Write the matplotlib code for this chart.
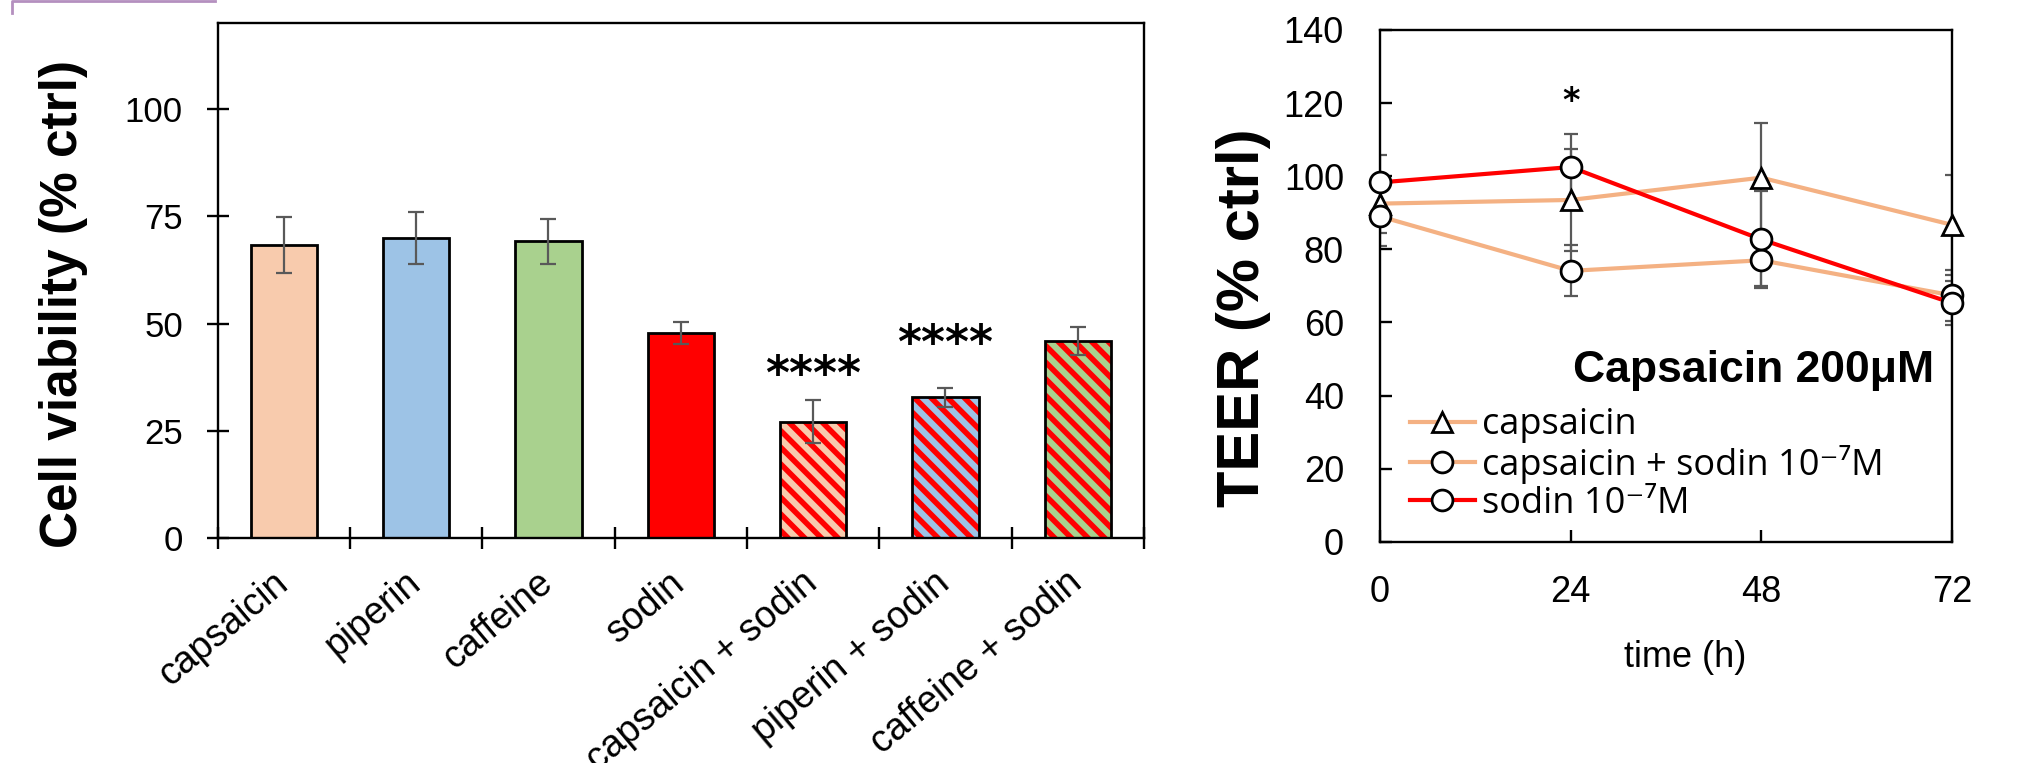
import numpy as np
import matplotlib
matplotlib.use("Agg")
from matplotlib import pyplot as plt
from matplotlib.lines import Line2D
from matplotlib.font_manager import FontProperties
from matplotlib.transforms import ScaledTranslation

plt.rcParams['font.family'] = ['Liberation Sans', 'DejaVu Sans']
plt.rcParams['hatch.linewidth'] = 4.0

# ---- left panel: cell viability ----
categories = ['capsaicin', 'piperin', 'caffeine', 'sodin',
              'capsaicin + sodin', 'piperin + sodin', 'caffeine + sodin']
viability = [68.3, 70.0, 69.2, 47.8, 27.2, 32.9, 46.0]
viability_err = [6.5, 6.0, 5.2, 2.6, 5.0, 2.2, 3.2]
bar_colors = ['#F8CBAD', '#9DC3E6', '#A9D18E', '#FF0000',
              '#F8CBAD', '#9DC3E6', '#A9D18E']
striped = [False, False, False, False, True, True, True]
stars = ['', '', '', '', '****', '****', '']
star_height = [0, 0, 0, 0, 37.6, 45.0, 0]

# ---- right panel: TEER ----
time_h = [0, 24, 48, 72]
teer_capsaicin = [92.5, 93.5, 99.6, 86.7]
teer_capsaicin_err = [8.0, 13.9, 15.0, 13.6]
teer_caps_sodin = [89.0, 74.1, 77.0, 67.4]
teer_caps_sodin_err = [8.0, 7.0, 7.0, 7.0]
teer_sodin = [98.3, 102.5, 82.7, 65.3]
teer_sodin_err = [7.4, 9.1, 13.2, 6.0]
signif_time = 24
signif_y = 120.4

peach_line = '#F4B183'
grey = '#595959'

fig = plt.figure(figsize=(20.19, 7.63), dpi=100)

ax1 = fig.add_axes([0.1078, 0.2945, 0.4588, 0.675])
x = np.arange(len(categories))
for i in range(len(categories)):
    if striped[i]:
        # red stripes over the base colour, black outline on top
        ax1.bar(x[i], viability[i], width=0.5, color=bar_colors[i],
                edgecolor='#FF0000', hatch='\\\\', linewidth=0, zorder=2)
        ax1.bar(x[i], viability[i], width=0.5, fill=False,
                edgecolor='black', linewidth=2.0, zorder=3)
    else:
        ax1.bar(x[i], viability[i], width=0.5, color=bar_colors[i],
                edgecolor='black', linewidth=2.0, zorder=2)
ax1.errorbar(x, viability, yerr=viability_err, fmt='none', ecolor=grey,
             elinewidth=1.6, capsize=6, capthick=1.6, zorder=4)
for i, s in enumerate(stars):
    if s:
        ax1.text(x[i], star_height[i], s, ha='center', va='center',
                 fontsize=33, fontweight='bold', family='DejaVu Sans')

ax1.set_xlim(-0.5, len(categories) - 0.5)
ax1.set_ylim(0, 120)
ax1.set_yticks([0, 25, 50, 75, 100])
ax1.set_xticks(x)
ax1.set_xticklabels(categories, rotation=40, ha='right', rotation_mode='anchor')
ax1.set_xticks(np.arange(len(categories) + 1) - 0.5, minor=True)
ax1.tick_params(axis='x', which='major', length=0, pad=19, labelsize=27)
ax1.tick_params(axis='x', which='minor', direction='inout', length=16, width=1.7)
ax1.tick_params(axis='y', direction='inout', length=16, width=1.7,
                labelsize=25, pad=17)
shift = ScaledTranslation(-12 / 100, 0, fig.dpi_scale_trans)
for lab in ax1.get_xticklabels():
    lab.set_transform(lab.get_transform() + shift)
for sp in ax1.spines.values():
    sp.set_linewidth(1.7)
fig.text(64 / 2019, 1 - 304 / 763, 'Cell viability (% ctrl)', rotation=90,
         ha='center', va='center', fontsize=37, fontweight='bold')

# right panel
ax2 = fig.add_axes([0.6835, 0.29, 0.2833, 0.6707])
ax2.errorbar(time_h, teer_capsaicin, yerr=teer_capsaicin_err, fmt='none',
             ecolor=grey, elinewidth=1.6, capsize=5, capthick=1.6, zorder=2)
ax2.errorbar(time_h, teer_caps_sodin, yerr=teer_caps_sodin_err, fmt='none',
             ecolor=grey, elinewidth=1.6, capsize=5, capthick=1.6, zorder=2)
ax2.errorbar(time_h, teer_sodin, yerr=teer_sodin_err, fmt='none',
             ecolor=grey, elinewidth=1.6, capsize=5, capthick=1.6, zorder=2)
ax2.plot(time_h, teer_capsaicin, color=peach_line, lw=3, marker='^', ms=15,
         mfc='white', mec='black', mew=2, label='capsaicin', zorder=3, clip_on=False)
ax2.plot(time_h, teer_caps_sodin, color=peach_line, lw=3, marker='o', ms=15,
         mfc='white', mec='black', mew=2, label='capsaicin + sodin 10\u207b\u2077M',
         zorder=3, clip_on=False)
ax2.plot(time_h, teer_sodin, color='#FF0000', lw=3, marker='o', ms=15,
         mfc='white', mec='black', mew=2, label='sodin 10\u207b\u2077M',
         zorder=4, clip_on=False)
ax2.text(signif_time, signif_y, '*', ha='center', va='center', fontsize=24,
         fontweight='bold', family='DejaVu Sans')
ax2.text(0.9685, 0.3127, 'Capsaicin 200\u03bcM', transform=ax2.transAxes,
         ha='right', va='baseline', fontsize=32, fontweight='bold')

ax2.set_xlim(0, 72)
ax2.set_ylim(0, 140)
ax2.set_xticks(time_h)
ax2.set_yticks(np.arange(0, 141, 20))
ax2.tick_params(axis='both', direction='in', length=8.5, width=1.7, labelsize=26)
ax2.tick_params(axis='y', pad=26)
ax2.tick_params(axis='x', pad=24)
for sp in ax2.spines.values():
    sp.set_linewidth(1.7)
ax2.set_xlabel('time (h)', fontsize=26)
ax2.xaxis.set_label_coords(0.534, -0.193)
fig.text(1243 / 2019, 1 - 318 / 763, 'TEER (% ctrl)', rotation=90,
         ha='center', va='center', fontsize=43, fontweight='bold')

leg = ax2.legend(loc='upper left', bbox_to_anchor=(0.052, 0.263), frameon=False,
                 prop=FontProperties(family=['Open Sans', 'DejaVu Sans'], size=26),
                 handlelength=1.8, handletextpad=0.2, labelspacing=0.05,
                 borderpad=0, borderaxespad=0)

# stray purple frame corner at the top left of the original figure
fig.add_artist(Line2D([12 / 2019, 12 / 2019, 215 / 2019],
                      [1 - 13 / 763, 1 - 1 / 763, 1 - 1 / 763],
                      color='#B48FBF', lw=2))

fig.savefig('out.png', dpi=100)
